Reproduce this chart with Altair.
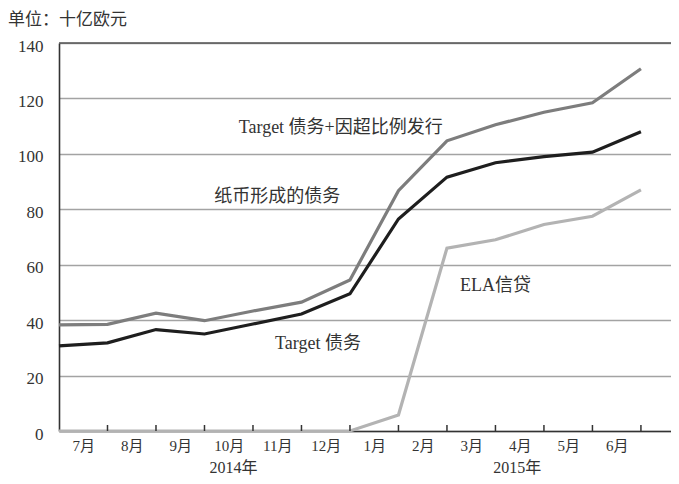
import altair as alt
import pandas as pd

# ---- data ----
x_idx = list(range(13))
target_plus_notes = [38.3, 38.5, 42.5, 39.8, 43.3, 46.5, 54.5, 86.7, 104.7, 110.5, 115.0, 118.4, 130.7]
target_debt = [30.7, 31.8, 36.6, 35.0, 38.6, 42.2, 49.5, 76.5, 91.6, 96.8, 99.0, 100.6, 108.0]
ela_credit = [0, 0, 0, 0, 0, 0, 0, 5.8, 66.0, 69.0, 74.5, 77.5, 87.0]

series_names = ["ELA", "TargetPlus", "Target"]
series_colors = ["#b3b3b3", "#7d7d7d", "#1e1e1e"]

month_labels = ["7月", "8月", "9月", "10月", "11月", "12月", "1月", "2月", "3月", "4月", "5月", "6月"]
month_pos = [i + 0.5 for i in range(12)]
tick_pos = list(range(1, 13))

year_labels = ["2014年", "2015年"]
year_pos = [3.6, 9.45]

annot_text = ["Target 债务+因超比例发行", "纸币形成的债务", "Target 债务", "ELA信贷"]
annot_x = [5.81, 4.5, 5.34, 9.0]
annot_y = [109.5, 84.5, 31.5, 52.5]

unit_label = "单位：十亿欧元"
y_ticks = [0, 20, 40, 60, 80, 100, 120, 140]

FONT = "Liberation Serif, Noto Sans CJK SC"
TXT = "#333333"

rows = []
for name, vals in zip(series_names, [ela_credit, target_plus_notes, target_debt]):
    for i, v in zip(x_idx, vals):
        rows.append({"i": i, "v": v, "s": name})
df = pd.DataFrame(rows)

xscale = alt.Scale(domain=[0, 12.62], nice=False, zero=False)
yscale = alt.Scale(domain=[0, 140], nice=False)

lines = alt.Chart(df).mark_line(strokeWidth=3.2).encode(
    x=alt.X("i:Q", scale=xscale,
            axis=alt.Axis(values=month_pos, title=None, grid=False, ticks=False,
                          labelExpr="%s[round(datum.value - 0.5)]" % str(month_labels),
                          labelFont=FONT, labelFontSize=15, labelColor=TXT,
                          labelPadding=7, domainColor="#333333", domainWidth=1.6,
                          labelFlush=False)),
    y=alt.Y("v:Q", scale=yscale,
            axis=alt.Axis(values=y_ticks, title=None, ticks=False, grid=True,
                          gridColor="#a3a3a3", gridWidth=1.3, gridOpacity=1,
                          labelFont=FONT, labelFontSize=17, labelColor=TXT,
                          labelPadding=16, labelOffset=3,
                          domainColor="#333333", domainWidth=1.6)),
    color=alt.Color("s:N", scale=alt.Scale(domain=series_names, range=series_colors), legend=None),
    order=alt.Order("i:Q"),
)

top_rule = alt.Chart(pd.DataFrame({"v": [max(y_ticks)]})).mark_rule(
    color="#555555", strokeWidth=1.5).encode(y=alt.Y("v:Q", scale=yscale))

ticks = alt.Chart(pd.DataFrame({"t": tick_pos})).mark_rule(
    color="#333333", strokeWidth=1.5).encode(
    x=alt.X("t:Q", scale=xscale), y=alt.value(382), y2=alt.value(388))

years = alt.Chart(pd.DataFrame({"x": year_pos, "t": year_labels})).mark_text(
    font=FONT, fontSize=16, color=TXT, baseline="alphabetic", align="center").encode(
    x=alt.X("x:Q", scale=xscale), y=alt.value(430), text="t:N")

annots = alt.Chart(pd.DataFrame({"x": annot_x, "y": annot_y, "t": annot_text})).mark_text(
    font=FONT, fontSize=18, color=TXT, baseline="middle", align="center").encode(
    x=alt.X("x:Q", scale=xscale), y=alt.Y("y:Q", scale=yscale), text="t:N")

unit = alt.Chart(pd.DataFrame({"t": [unit_label]})).mark_text(
    font=FONT, fontSize=17, color=TXT, baseline="middle", align="left").encode(
    x=alt.value(-51), y=alt.value(-23), text="t:N")

chart = alt.layer(top_rule, lines, ticks, years, annots, unit).properties(
    width=612, height=388,
    autosize=alt.AutoSizeParams(type="none"),
    padding={"left": 51, "top": 35, "right": 0, "bottom": 45},
    background="#ffffff",
).configure_view(stroke=None)

chart.save("out.html", embed_options={"renderer": "svg", "actions": False})
